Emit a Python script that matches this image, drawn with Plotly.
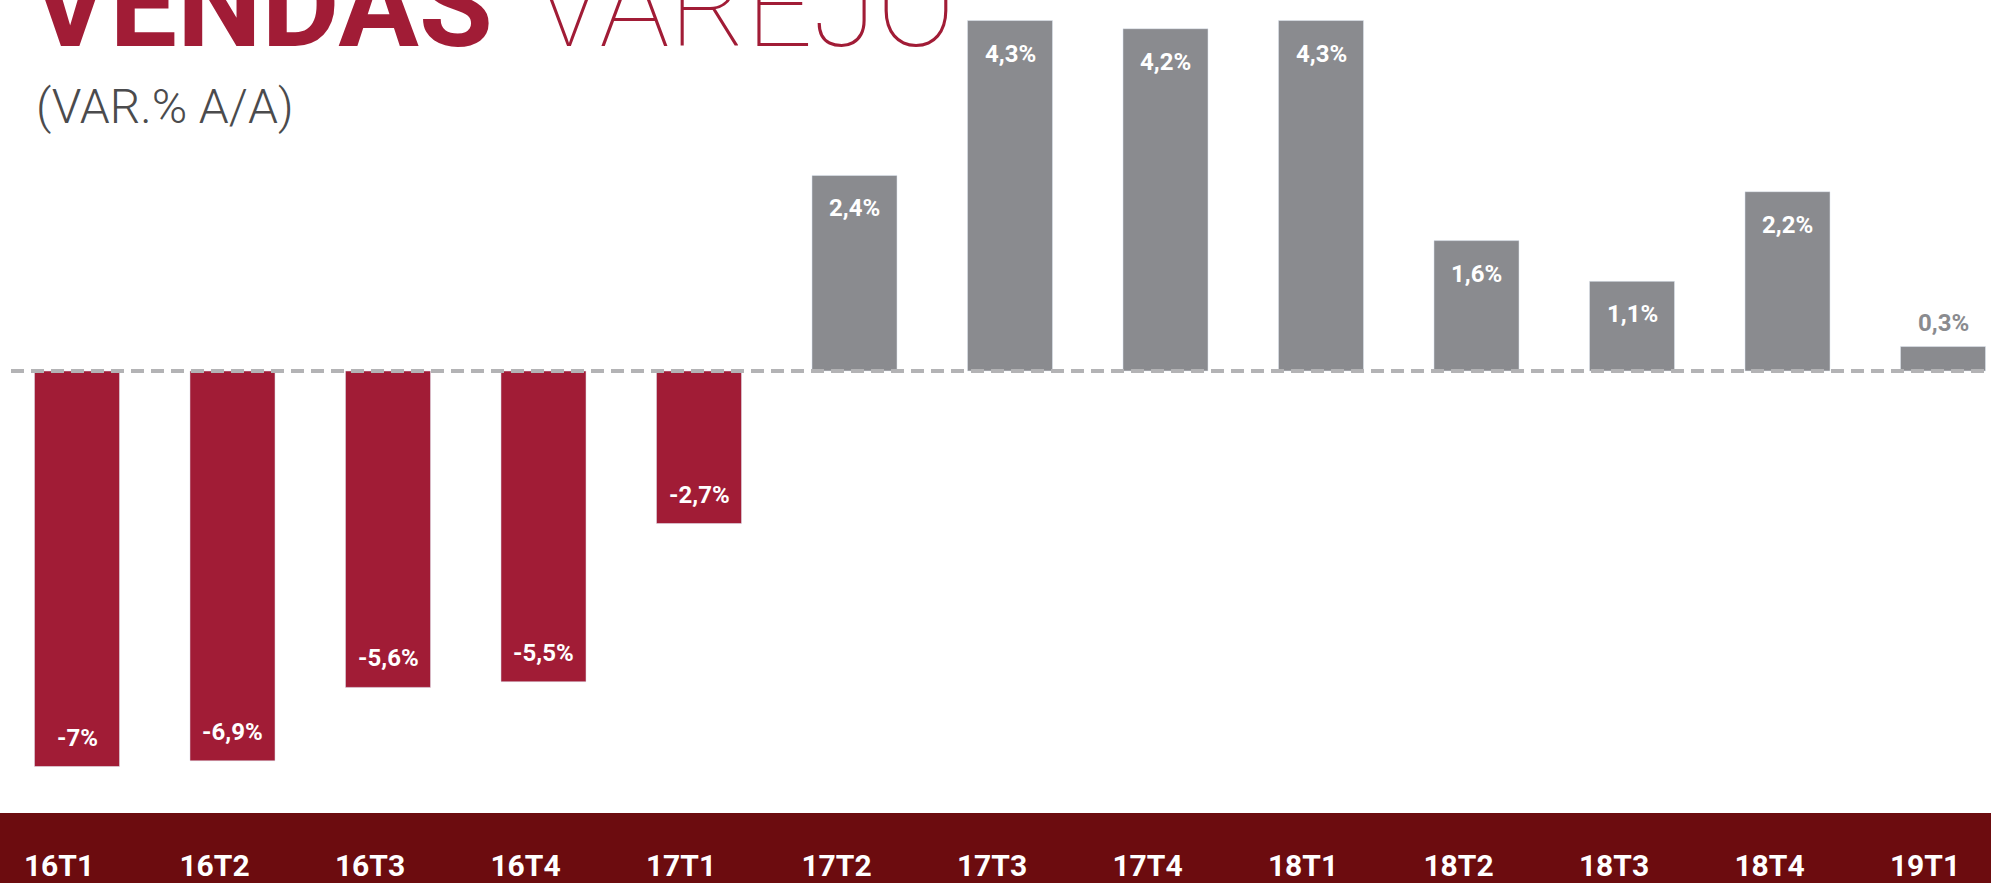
import plotly.graph_objects as go

categories = ["16T1", "16T2", "16T3", "16T4", "17T1", "17T2", "17T3",
              "17T4", "18T1", "18T2", "18T3", "18T4", "19T1"]
values = [-7.0, -6.9, -5.6, -5.5, -2.7, 2.4, 4.3, 4.2, 4.3, 1.6, 1.1, 2.2, 0.3]
labels = ["-7%", "-6,9%", "-5,6%", "-5,5%", "-2,7%", "2,4%", "4,3%",
          "4,2%", "4,3%", "1,6%", "1,1%", "2,2%", "0,3%"]

RED = "#a11c36"
GRAY = "#8a8b8f"
BAND = "#6c0c0f"

W, H = 1991, 883
BAND_TOP = 813               # top of the dark red band (px)
B = H - BAND_TOP             # bottom margin holding the category labels
PH = H - B                   # plot height
ZERO_PX = 371                # zero line, pixels from top
NEG_SCALE = 56.5             # px per unit for negative bars
POS_SCALE = 81.5             # px per unit for positive bars
STEP = 155.5                 # px between category centres
FIRST = 77                   # centre of first category (px)

neg_x = [c for c, v in zip(categories, values) if v < 0]
neg_y = [v for v in values if v < 0]
pos_x = [c for c, v in zip(categories, values) if v >= 0]
pos_y = [v for v in values if v >= 0]

fig = go.Figure()
fig.add_trace(go.Bar(x=neg_x, y=neg_y, marker_color=RED, width=0.547,
                     yaxis="y", hoverinfo="skip"))
fig.add_trace(go.Bar(x=pos_x, y=pos_y, marker_color=GRAY, width=0.547,
                     yaxis="y2", hoverinfo="skip"))

LBL = dict(family="Roboto", size=24, color="white", weight="bold")
for c, v, t in zip(categories, values, labels):
    if v < 0:
        fig.add_annotation(x=c, y=v, yref="y", text=t, showarrow=False,
                           yshift=29, yanchor="middle", font=LBL)
    elif v >= 1.0:
        fig.add_annotation(x=c, y=v, yref="y2", text=t, showarrow=False,
                           yshift=-33, yanchor="middle", font=LBL)
    else:
        fig.add_annotation(x=c, y=v, yref="y2", text=t, showarrow=False,
                           yshift=24, yanchor="middle", font={**LBL, "color": GRAY})


def py(px):
    """pixel row -> paper y"""
    return (PH - px) / PH


def pxx(px):
    """pixel column -> paper x"""
    return px / W


# dark red band at the bottom
fig.add_shape(type="rect", xref="paper", yref="paper", x0=0, x1=1,
              y0=-B / PH - 0.01, y1=0, fillcolor=BAND, line_width=0, layer="below")

# dashed zero line
fig.add_shape(type="line", xref="paper", yref="y2", x0=pxx(11), x1=1, y0=0, y1=0,
              line=dict(color="#b3b3b5", width=4, dash="13px,7px"), layer="above")

# titles
fig.add_annotation(xref="paper", yref="paper", x=pxx(29), y=py(5), xanchor="left",
                   yanchor="middle", text="VENDAS", showarrow=False,
                   font=dict(family="Roboto", size=120, color=RED, weight="bold"))
fig.add_annotation(xref="paper", yref="paper", x=pxx(532), y=py(6), xanchor="left",
                   yanchor="middle", text="VAREJO", showarrow=False,
                   font=dict(family="Roboto", size=117, color=RED, weight=100))
fig.add_annotation(xref="paper", yref="paper", x=pxx(34), y=py(106), xanchor="left",
                   yanchor="middle", text="(VAR.% A/A)", showarrow=False,
                   font=dict(family="Roboto", size=48, color="#4b4b4d", weight=300))

fig.update_layout(
    width=W, height=H,
    margin=dict(l=0, r=0, t=0, b=B),
    paper_bgcolor="white", plot_bgcolor="white",
    showlegend=False, barmode="overlay",
    xaxis=dict(type="category", categoryorder="array", categoryarray=categories,
               range=[-FIRST / STEP, (W - FIRST) / STEP], showgrid=False, zeroline=False,
               showline=False, ticks="",
               tickfont=dict(family="Roboto", size=30, color="white", weight="bold"),
               ticklabelstandoff=32, ticklabelshift=-18),
    yaxis=dict(visible=False,
               range=[-(PH - ZERO_PX) / NEG_SCALE, ZERO_PX / NEG_SCALE]),
    yaxis2=dict(visible=False, overlaying="y",
                range=[-(PH - ZERO_PX) / POS_SCALE, ZERO_PX / POS_SCALE]),
)

fig.write_html(
    "out.html",
    config={"displayModeBar": False},
    post_script="document.body.style.margin='0';document.body.style.overflow='hidden';",
)
